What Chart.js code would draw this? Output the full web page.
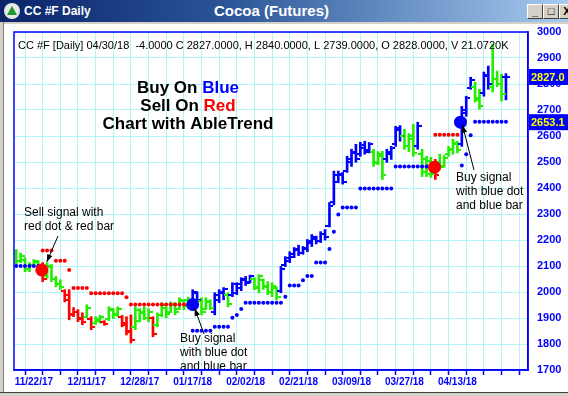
<!DOCTYPE html>
<html><head><meta charset="utf-8">
<script src="https://cdn.jsdelivr.net/npm/chart.js@4.4.1/dist/chart.umd.min.js"></script>
<style>
html,body{margin:0;padding:0;background:#fff;}
#wrap{position:relative;width:568px;height:396px;overflow:hidden;background:#fff;font-family:"Liberation Sans",Arial,sans-serif;}
#c{position:absolute;left:0;top:0;}
#tb{position:absolute;left:0;top:0;width:568px;height:22px;background:linear-gradient(to right,#0a246a 0%,#2b5597 40%,#a6caf0 100%);z-index:2;}
#tbline{position:absolute;left:0;top:22px;width:568px;height:2px;background:#d4d0c8;z-index:2;}
#icon{position:absolute;left:4px;top:3px;width:16px;height:16px;border-radius:50%;background:#e8e8e8;}
#icon:after{content:"";position:absolute;left:3px;top:3px;border-left:5px solid transparent;border-right:5px solid transparent;border-bottom:9px solid #1a9a2a;}
#t1{position:absolute;left:24px;top:4px;color:#fff;font-weight:bold;font-size:12px;}
#t2{position:absolute;left:214px;top:2px;color:#fff;font-weight:bold;font-size:15px;}
.btn{position:absolute;top:4px;width:14px;height:13px;background:#d4d0c8;border:1px solid;border-color:#fff #404040 #404040 #fff;font-size:11px;font-weight:bold;line-height:12px;text-align:center;color:#000;}
#lf{position:absolute;left:0;top:22px;width:3px;height:374px;background:#d4d0c8;border-right:1px solid #808080;z-index:2;}
#bf{position:absolute;left:0;top:392px;width:568px;height:4px;background:#d4d0c8;border-top:1px solid #404040;z-index:2;}
</style></head>
<body><div id="wrap">
<canvas id="c" width="568" height="396"></canvas>
<div id="tb"><div id="icon"></div><span id="t1">CC #F Daily</span><span id="t2">Cocoa (Futures)</span>
<div class="btn" style="left:527px">_</div><div class="btn" style="left:543px">&#9633;</div><div class="btn" style="left:559px">X</div></div>
<div id="tbline"></div><div id="lf"></div><div id="bf"></div>
</div>
<script>
// ---- data (112 daily bars, 11/16/17 .. 04/30/18) ----
const tickLabels = ['11/22/17','12/11/17','12/28/17','01/17/18','02/02/18','02/21/18','03/09/18','03/27/18','04/13/18'];
const tickLabelBars = [4,16,28,40,52,64,76,88,100];

const highs = [2163,2150,2132,2113,2125,2120,2113,2113,2106,2060,
 2047,2009,2009,1940,1932,1920,1951,1905,1905,1910,
 1890,1943,1936,1943,1910,1905,1912,1943,1936,1943,
 1936,1905,1920,1959,1943,1962,1959,1978,1970,1980,
 2009,2001,1978,1978,1970,1997,2009,2017,1997,2036,
 2036,2055,2060,2065,2055,2067,2050,2040,2036,2020,
 2098,2136,2155,2171,2180,2175,2202,2221,2215,2232,
 2240,2344,2465,2465,2460,2522,2549,2568,2576,2580,
 2575,2549,2540,2541,2549,2560,2637,2640,2626,2610,
 2645,2653,2549,2522,2518,2510,2530,2525,2560,2588,
 2580,2714,2753,2826,2807,2780,2846,2869,2954,2850,2838,2840];
const lows = [2105,2113,2078,2078,2100,2094,2040,2053,2040,2020,
 2009,1962,1893,1905,1886,1874,1901,1855,1875,1880,
 1872,1890,1898,1905,1866,1835,1804,1855,1885,1893,
 1885,1828,1866,1905,1901,1920,1912,1932,1932,1935,
 1943,1962,1912,1932,1932,1912,1959,1970,1943,1982,
 1990,2005,2025,2035,2009,1997,2010,1990,1982,1970,
 1997,2098,2113,2132,2140,2145,2155,2175,2185,2190,
 2200,2250,2335,2420,2415,2460,2483,2499,2522,2530,
 2535,2483,2490,2433,2499,2510,2560,2580,2549,2540,
 2522,2549,2444,2444,2441,2433,2472,2480,2522,2530,
 2535,2560,2676,2780,2730,2703,2753,2780,2769,2790,2734,2739];
const opens = [2150,2120,2125,2090,2105,2115,2105,2060,2095,2050,
 2030,2005,1990,1915,1925,1900,1905,1895,1880,1890,
 1885,1895,1930,1915,1905,1880,1850,1865,1890,1920,
 1900,1900,1875,1910,1938,1925,1950,1935,1965,1970,
 1955,1995,1965,1935,1960,1925,1970,1995,1990,1990,
 1995,2015,2045,2040,2050,2015,2045,2025,2000,2015,
 2005,2105,2120,2135,2160,2150,2165,2190,2205,2195,
 2225,2255,2345,2425,2450,2465,2500,2535,2530,2555,
 2545,2540,2500,2525,2510,2530,2570,2625,2600,2560,
 2590,2560,2530,2510,2505,2495,2500,2485,2530,2545,
 2570,2570,2690,2785,2790,2740,2765,2830,2790,2820,2800,2828];
const closes = [2120,2140,2090,2105,2118,2100,2050,2100,2050,2030,
 2020,1970,1910,1925,1895,1885,1940,1865,1895,1905,
 1878,1935,1910,1935,1875,1845,1815,1930,1925,1900,
 1925,1840,1910,1950,1915,1955,1925,1970,1945,1950,
 2000,1970,1925,1965,1940,1990,2000,2010,1955,2030,
 2030,2050,2035,2060,2020,2060,2020,2000,2025,1980,
 2090,2130,2145,2165,2150,2170,2195,2210,2195,2225,
 2210,2330,2450,2455,2425,2510,2540,2510,2565,2540,
 2570,2495,2530,2450,2540,2555,2630,2600,2560,2600,
 2535,2640,2460,2455,2455,2450,2480,2515,2550,2575,
 2545,2700,2745,2815,2745,2715,2835,2800,2820,2800,2760,2827];
// trend colour of each bar: b = up (blue), g = neutral (green), r = down (red)
const barTrend = "gggggg r gggg rrrrr g r gg r ggg rrr gggg r gggggggg bb ggg bbb g bbbbb gggggg bbbbbbbbbb bbbbbbbbbb b ggg bbbb ggg b ggg r ggggg bbb gg bb ggg b".replace(/ /g,'').split('');
const blueStops = [2100,2100,2100,2100,2100,2100,
 null,null,null,null,null,null,null,null,null,null,null,null,null,null,null,null,null,
 null,null,null,null,null,null,null,null,null,null,null,null,null,null,null,null,null,
 1851,1851,1851,1851,1851,1866,1866,1866,1866,1901,1912,1935,
 1959,1959,1959,1959,1959,1959,1959,1959,1959,1982,2025,2025,2025,2045,2062,2062,
 2113,2113,2113,2165,2232,2298,2325,2325,2325,2325,
 2398,2398,2398,2398,2398,2398,2398,2398,
 2483,2483,2483,2483,2483,2483,2483,2483,2483,
 null,null,null,null,null,null,
 2487,2530,2603,2655,2655,2655,2655,2655,2655,2655,2655];
const redStops = [null,null,null,null,null,null,
 2160,2160,2160,2120,2120,2120,2085,2015,2015,2015,2015,
 1995,1995,1995,1995,1995,1995,1995,1995,1980,
 1952,1952,1952,1952,1952,1952,1952,1952,1952,1952,1952,1952,1952,1952,
 null,null,null,null,null,null,null,null,null,null,null,null,null,null,null,null,null,null,null,null,
 null,null,null,null,null,null,null,null,null,null,null,null,null,null,null,null,null,null,null,null,
 null,null,null,null,null,null,null,null,null,null,null,null,null,null,null,
 2605,2605,2605,2605,2605,2605,
 null,null,null,null,null,null,null,null,null,null,null];
// signal dots: bar position, price, type
const signalBar = [5.8, 40, 94.8, 100.7];
const signalPrice = [2085, 1952, 2480, 2653];
const signalType = ['r','b','r','b'];
const lastClose = 2827.0;
const trendStop = 2653.1;
const headerText = 'CC #F [Daily] 04/30/18  -4.0000 C 2827.0000, H 2840.0000, L 2739.0000, O 2828.0000, V 21.0720K';

// ---- drawing ----
const COL = {b:'#0000ff', g:'#22ee00', r:'#ff0000'};
const FONT = '"Liberation Sans", Arial, sans-serif';
const idx = highs.map((_, i) => i);
function tickImg(color, side){
  const c = document.createElement('canvas'); c.width = 8; c.height = 2;
  const g = c.getContext('2d'); g.fillStyle = color;
  if (side === 'L') g.fillRect(0,0,3,2); else g.fillRect(5,0,3,2);
  return c;
}
const openImg = {}, closeImg = {};
for (const k of Object.keys(COL)) { openImg[k] = tickImg(COL[k],'L'); closeImg[k] = tickImg(COL[k],'R'); }

function arrow(ctx, x1, y1, x2, y2){
  ctx.save(); ctx.strokeStyle = '#000'; ctx.fillStyle = '#000'; ctx.lineWidth = 1;
  ctx.beginPath(); ctx.moveTo(x1,y1); ctx.lineTo(x2,y2); ctx.stroke();
  const a = Math.atan2(y2-y1, x2-x1), L = 8, w = 0.35;
  ctx.beginPath(); ctx.moveTo(x2,y2);
  ctx.lineTo(x2 - L*Math.cos(a-w), y2 - L*Math.sin(a-w));
  ctx.lineTo(x2 - L*Math.cos(a+w), y2 - L*Math.sin(a+w));
  ctx.closePath(); ctx.fill(); ctx.restore();
}
function multi(ctx, parts, cx, y){
  let w = 0; for (const p of parts) w += ctx.measureText(p[0]).width;
  let x = cx - w/2;
  for (const p of parts){ ctx.fillStyle = p[1]; ctx.fillText(p[0], x, y); x += ctx.measureText(p[0]).width; }
}

const overlay = {
  id: 'overlay',
  afterDatasetsDraw(chart){
    const ctx = chart.ctx, xs = chart.scales.x, ys = chart.scales.y;
    ctx.save();
    ctx.textBaseline = 'middle';
    ctx.font = '11px ' + FONT; ctx.fillStyle = '#000';
    ctx.fillText(headerText, 18, 46);
    ctx.font = 'bold 17px ' + FONT;
    multi(ctx, [['Buy On ','#000'],['Blue','#0000ff']], 188, 88);
    multi(ctx, [['Sell On ','#000'],['Red','#ff0000']], 188, 106);
    multi(ctx, [['Chart with AbleTrend','#000']], 188, 124);
    ctx.font = '12px ' + FONT; ctx.fillStyle = '#000';
    ctx.fillText('Sell signal with', 24, 213);
    ctx.fillText('red dot & red bar', 24, 227);
    ctx.fillText('Buy signal', 180, 339);
    ctx.fillText('with blue dot', 180, 353);
    ctx.fillText('and blue bar', 180, 367);
    ctx.fillText('Buy signal', 456, 178);
    ctx.fillText('with blue dot', 456, 192);
    ctx.fillText('and blue bar', 456, 206);
    const p = i => [xs.getPixelForValue(signalBar[i]), ys.getPixelForValue(signalPrice[i])];
    let [a,b] = p(0); arrow(ctx, 58, 236, a+5, b-8);
    [a,b] = p(1); arrow(ctx, 204, 334, a+2, b+4);
    [a,b] = p(3); arrow(ctx, 474, 170, a+2, b+3);
    ctx.restore();
  },
  afterDraw(chart){
    const ctx = chart.ctx, ca = chart.chartArea, ys = chart.scales.y;
    ctx.save();
    ctx.strokeStyle = '#0000ff'; ctx.lineWidth = 1.5;
    ctx.strokeRect(ca.left, ca.top, ca.right - ca.left, ca.bottom - ca.top);
    ctx.font = 'bold 11px ' + FONT; ctx.textBaseline = 'middle';
    for (const v of [lastClose, trendStop]){
      const y = ys.getPixelForValue(v);
      ctx.fillStyle = '#0000ff'; ctx.fillRect(ca.right + 1, y - 8, 50, 16);
      ctx.fillStyle = '#ffff00'; ctx.fillText(v.toFixed(1), ca.right + 3, y + 0.5);
    }
    ctx.restore();
  }
};

new Chart(document.getElementById('c'), {
  data: {
    datasets: [
      { type:'scatter', order:0, data: signalBar.map((x,i)=>({x, y:signalPrice[i]})),
        pointRadius:6.5, pointBackgroundColor: signalType.map(t=>COL[t]), pointBorderWidth:0 },
      { type:'scatter', order:1, data: idx.map(i=>({x:i, y:blueStops[i]})),
        pointRadius:2, pointBackgroundColor:'#0000ff', pointBorderWidth:0 },
      { type:'scatter', order:1, data: idx.map(i=>({x:i, y:redStops[i]})),
        pointRadius:2, pointBackgroundColor:'#ff0000', pointBorderWidth:0 },
      { type:'scatter', order:2, data: idx.map(i=>({x:i, y:opens[i]})),
        pointRadius:1, pointStyle: c => openImg[barTrend[c.dataIndex]] },
      { type:'scatter', order:2, data: idx.map(i=>({x:i, y:closes[i]})),
        pointRadius:1, pointStyle: c => closeImg[barTrend[c.dataIndex]] },
      { type:'bar', order:3, data: idx.map(i=>({x:i, y:[lows[i], highs[i]]})),
        backgroundColor: idx.map(i=>COL[barTrend[i]]), barThickness:2, borderWidth:0, grouped:false }
    ]
  },
  options: {
    responsive:false, animation:false, events:[],
    layout:{ padding:{ left:14, top:32, right:0, bottom:0 } },
    plugins:{ legend:{display:false}, tooltip:{enabled:false} },
    scales:{
      x:{ type:'linear', position:'bottom', min:-0.5, max:116, offset:false,
        afterBuildTicks: s => { const t=[]; for(let v=0; v<=112; v+=4) t.push({value:v}); s.ticks=t; },
        afterFit: s => { s.height = 26; },
        grid:{ drawOnChartArea:false, drawTicks:true, tickLength:5, tickColor:'#0000ff', tickWidth:1.5 },
        border:{ color:'#0000ff', width:1.5 },
        ticks:{ autoSkip:false, maxRotation:0, padding:1, color:'#0000ff', font:{family:FONT, size:10, weight:'bold'},
          callback: v => { const k = tickLabelBars.indexOf(v); return k >= 0 ? tickLabels[k] : ''; } }
      },
      xg:{ type:'linear', position:'bottom', min:-0.5, max:116,
        afterBuildTicks: s => { const t=[]; for(let v=2; v<=114; v+=4) t.push({value:v}); s.ticks=t; },
        afterFit: s => { s.height = 0; },
        grid:{ color:'#b4f4f4', lineWidth:1, drawTicks:false }, border:{display:false},
        ticks:{ display:false }
      },
      y:{ type:'linear', position:'right', min:1700, max:3000,
        afterBuildTicks: s => { const t=[]; for(let v=1700; v<=3000; v+=100) t.push({value:v}); s.ticks=t; },
        afterFit: s => { s.width = 40; },
        grid:{ color:'#b4f4f4', lineWidth:1, drawTicks:false },
        border:{ color:'#0000ff', width:1.5 },
        ticks:{ padding:9, color:'#0000ff', font:{family:FONT, size:11, weight:'bold'}, callback: v => String(v) }
      }
    }
  },
  plugins:[overlay]
});
</script></body></html>
